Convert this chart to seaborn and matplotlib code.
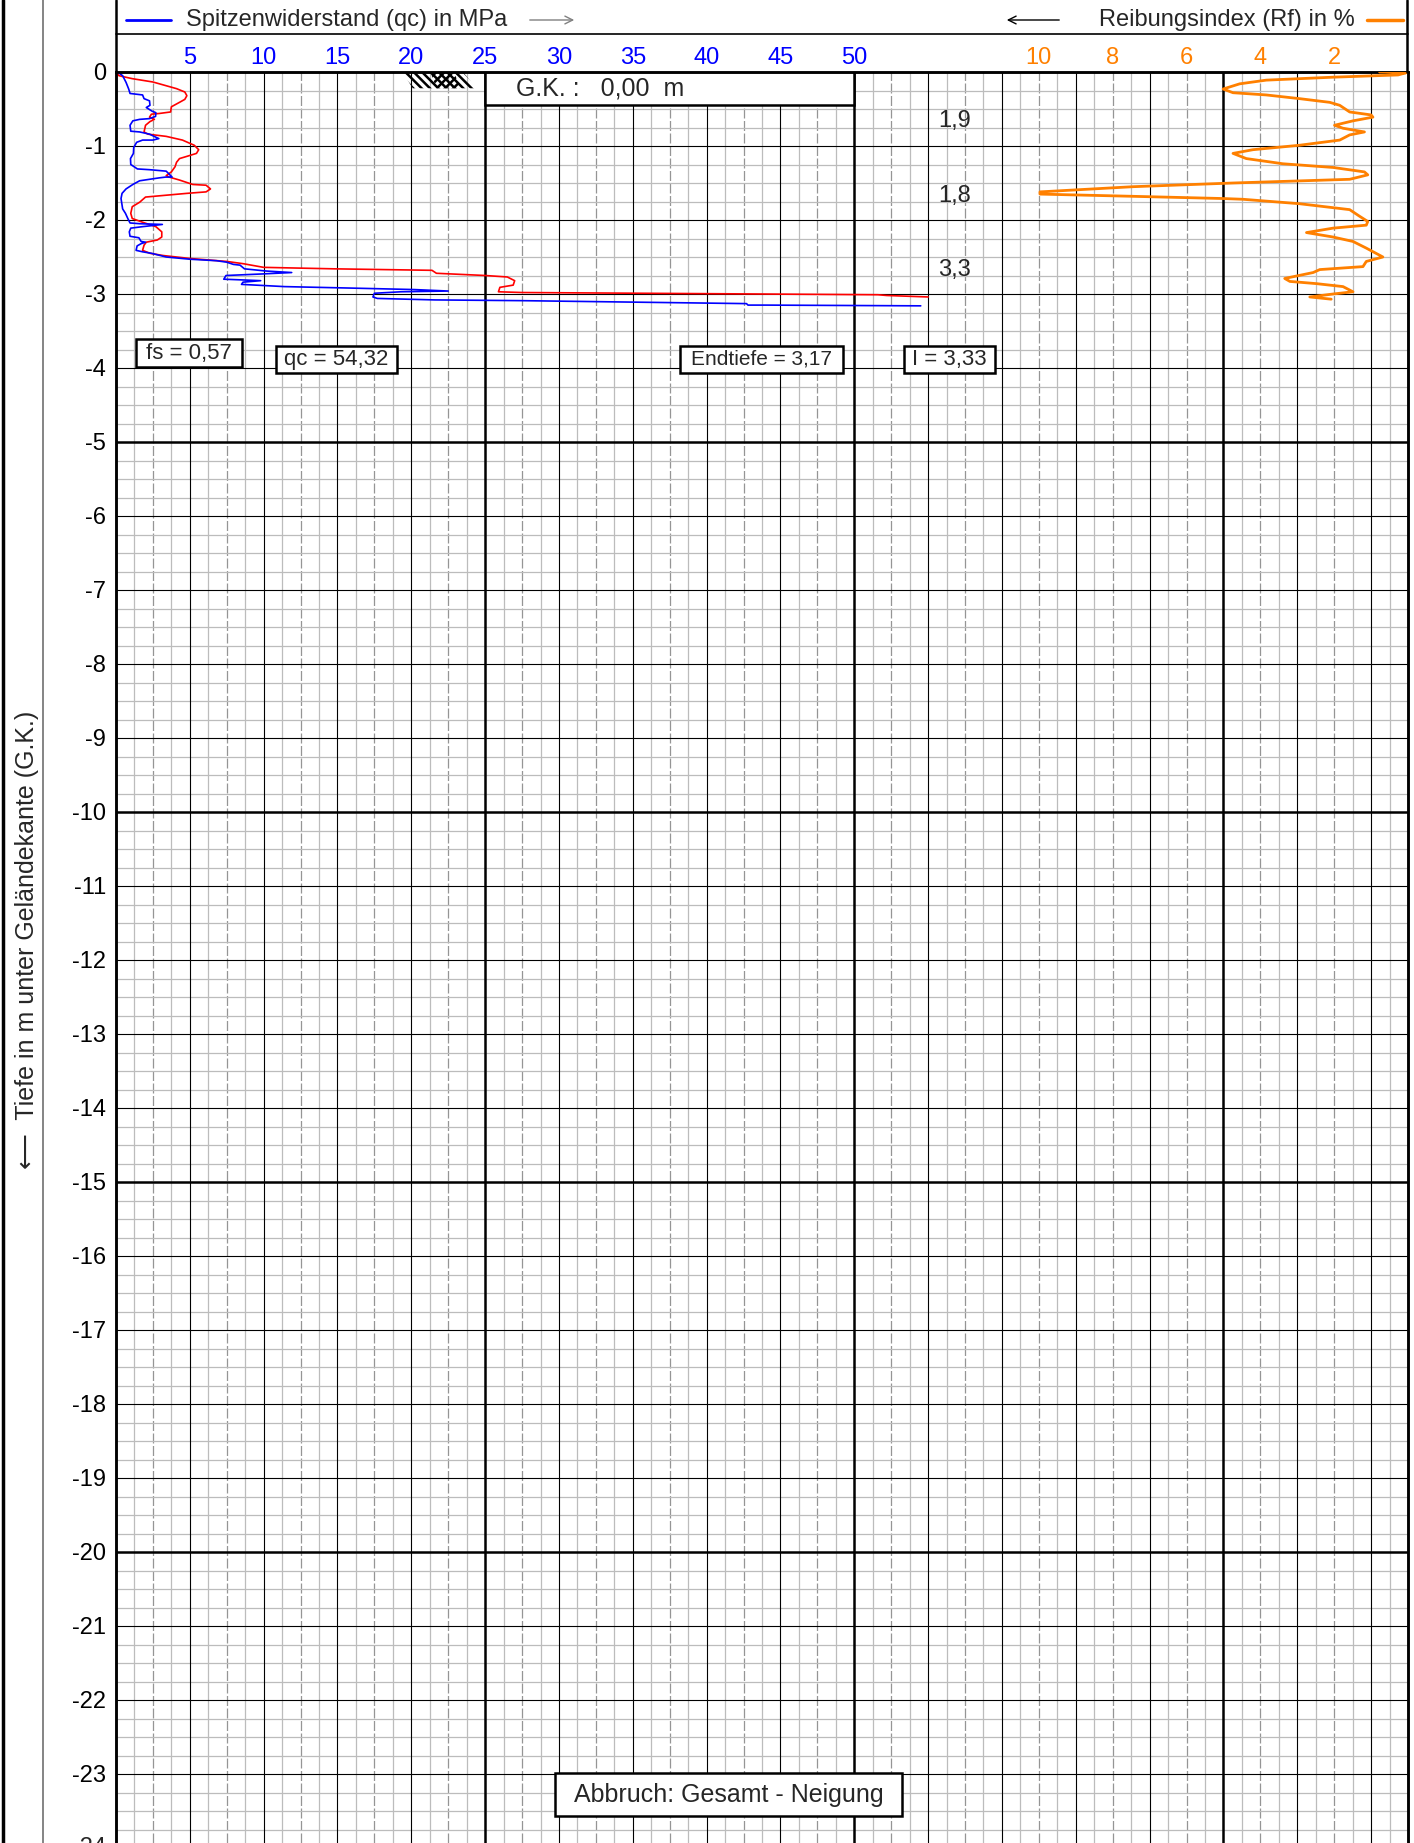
import numpy as np
import pandas as pd
import matplotlib.pyplot as plt
from matplotlib.lines import Line2D
from matplotlib.patches import Rectangle, Polygon, FancyArrowPatch
import seaborn as sns

# =====================
# DATA (depth in m below G.K., values read off the sounding log)
# =====================
qc_depth = [0.00, 0.05, 0.14, 0.23, 0.29, 0.31, 0.36, 0.39, 0.45, 0.48,
            0.53, 0.55, 0.60, 0.63, 0.64, 0.66, 0.72, 0.80, 0.81, 0.84,
            0.90, 0.92, 0.92, 0.95, 1.02, 1.10, 1.17, 1.25, 1.31, 1.32,
            1.34, 1.38, 1.42, 1.42, 1.43, 1.45, 1.47, 1.52, 1.58, 1.64,
            1.71, 1.85, 1.91, 1.98, 2.04, 2.05, 2.06, 2.09, 2.11, 2.16,
            2.22, 2.24, 2.29, 2.30, 2.32, 2.35, 2.41, 2.43, 2.45, 2.50,
            2.53, 2.55, 2.57, 2.60, 2.61, 2.66, 2.69, 2.71, 2.73, 2.75,
            2.80, 2.81, 2.82, 2.84, 2.87, 2.90, 2.92, 2.94, 2.96, 2.97,
            2.99, 3.04, 3.06, 3.08, 3.09, 3.13, 3.15, 3.15, 3.16]
qc_value = [0.1, 0.45, 0.68, 0.86, 0.95, 1.8, 1.9, 2.27, 2.3, 2.05,
            2.45, 2.7, 2.68, 2.27, 1.6, 1.14, 0.95, 1.0, 1.6, 2.27,
            2.9, 2.5, 1.8, 1.4, 1.2, 1.18, 0.98, 1.0, 1.45, 2.27,
            3.4, 3.6, 3.8, 3.36, 2.95, 2.27, 1.6, 1.14, 0.68, 0.41,
            0.34, 0.45, 0.64, 0.8, 0.95, 1.6, 3.14, 1.8, 1.0, 0.9,
            0.95, 1.55, 1.7, 2.0, 1.7, 1.43, 1.36, 1.8, 2.4, 3.4,
            5.0, 6.8, 7.5, 7.95, 8.4, 8.7, 10.2, 11.9, 9.8, 7.45,
            7.3, 8.6, 9.8, 8.6, 8.5, 11.4, 15.9, 20.2, 22.5, 19.3,
            17.5, 17.4, 17.7, 21.6, 27.5, 42.7, 42.8, 44.0, 54.5]

fs_depth = [0.00, 0.05, 0.09, 0.135, 0.225, 0.27, 0.32, 0.37, 0.41, 0.47,
            0.54, 0.56, 0.57, 0.61, 0.64, 0.67, 0.72, 0.81, 0.84, 0.87,
            0.92, 0.99, 1.05, 1.10, 1.14, 1.17, 1.22, 1.28, 1.35, 1.40,
            1.42, 1.46, 1.52, 1.53, 1.58, 1.62, 1.64, 1.69, 1.76, 1.82,
            1.91, 1.98, 2.03, 2.09, 2.16, 2.23, 2.27, 2.30, 2.34, 2.41,
            2.45, 2.48, 2.52, 2.56, 2.59, 2.64, 2.66, 2.68, 2.72, 2.75,
            2.77, 2.82, 2.88, 2.91, 2.97, 2.98, 3.01, 3.02, 3.04]
fs_value = [0.0, 0.2, 1.1, 2.5, 4.1, 4.66, 4.8, 4.66, 4.3, 3.75,
            3.7, 2.95, 2.4, 2.27, 2.6, 2.3, 2.0, 1.9, 2.16, 3.4,
            4.5, 5.3, 5.6, 5.45, 4.8, 4.3, 4.1, 4.0, 3.75, 3.4,
            3.6, 4.3, 5.2, 6.1, 6.4, 6.1, 4.8, 2.0, 1.6, 1.1,
            1.0, 1.1, 1.8, 2.7, 3.1, 3.1, 2.8, 2.05, 1.9, 1.8,
            2.3, 3.2, 5.0, 7.5, 8.6, 10.0, 14.8, 21.4, 21.7, 25.0,
            26.5, 27.0, 26.9, 26.0, 25.9, 27.5, 51.6, 52.2, 55.0]

rf_depth = [0.00, 0.01, 0.04, 0.07, 0.11, 0.16, 0.23, 0.28, 0.31, 0.36,
            0.41, 0.45, 0.54, 0.58, 0.61, 0.66, 0.72, 0.76, 0.81, 0.85,
            0.92, 0.99, 1.05, 1.10, 1.17, 1.24, 1.29, 1.35, 1.39, 1.45,
            1.50, 1.55, 1.62, 1.65, 1.68, 1.71, 1.72, 1.78, 1.86, 1.95,
            2.02, 2.07, 2.11, 2.17, 2.23, 2.29, 2.38, 2.50, 2.56, 2.63,
            2.67, 2.71, 2.79, 2.83, 2.86, 2.90, 2.97, 3.00, 3.04, 3.07]
rf_value = [0.77, 0.05, 0.27, 2.03, 3.84, 4.56, 5.01, 4.74, 3.84, 2.94,
            2.12, 1.85, 1.58, 1.0, 0.95, 1.49, 1.99, 1.76, 1.18, 1.58,
            1.85, 2.94, 4.2, 4.74, 4.38, 3.39, 2.03, 1.18, 1.09, 1.58,
            4.74, 7.45, 9.97, 9.97, 7.45, 5.0, 4.47, 2.94, 1.58, 1.31,
            1.09, 1.13, 2.03, 2.75, 2.03, 1.49, 1.13, 0.68, 1.13, 1.22,
            2.39, 2.57, 3.34, 3.2, 2.48, 1.76, 1.49, 2.03, 2.66, 2.08]

rf_mean_depth = [0.66, 1.67, 2.68]
rf_mean_label = ['1,9', '1,8', '3,3']

qc_ticks = [5, 10, 15, 20, 25, 30, 35, 40, 45, 50]
rf_ticks = [10, 8, 6, 4, 2]
depth_ticks = list(range(0, -24, -1))

qc_df = pd.DataFrame({'qc': qc_value, 'tiefe': -np.array(qc_depth)})
fs_df = pd.DataFrame({'fs': fs_value, 'tiefe': -np.array(fs_depth)})
rf_df = pd.DataFrame({'rf': rf_value, 'tiefe': -np.array(rf_depth)})

# =====================
# FIGURE
# =====================
sns.set_theme(style='white')
plt.rcParams['font.family'] = ['Liberation Sans', 'DejaVu Sans']
plt.rcParams['axes.unicode_minus'] = False
plt.rcParams['hatch.linewidth'] = 1.8
plt.rcParams['hatch.color'] = 'black'

W, H = 1414, 1843
fig = plt.figure(figsize=(W / 100, H / 100), dpi=100)

QMAX = 87.5          # qc scale width of the chart (MPa)
TOP = 72             # pixel row of G.K.
PX_M = 74.0          # pixels per metre
LEFT, RIGHT = 116, 1408
bottom_depth = -(H - TOP) / PX_M
TICK_FS = 17

ax = fig.add_axes([LEFT / W, 0, (RIGHT - LEFT) / W, (H - TOP) / H])
ax.set_xlim(0, QMAX)
ax.set_ylim(bottom_depth, 0)

# grid paper
for x in np.arange(1.25, QMAX, 1.25):
    r = x % 5
    if np.isclose(r, 0) or np.isclose(r, 5):
        continue
    if np.isclose(r, 2.5):
        ax.axvline(x, color='#959595', lw=0.9, ls=(0, (8, 2)), zorder=0)
    else:
        ax.axvline(x, color='#bcbcbc', lw=0.9, zorder=0)
for x in np.arange(5, QMAX, 5):
    ax.axvline(x, color='black', lw=1.8 if x % 25 == 0 else 0.8, zorder=1)
for y in np.arange(-0.25, bottom_depth, -0.25):
    if np.isclose(y, round(y)):
        ax.axhline(y, color='black', lw=1.8 if round(y) % 5 == 0 else 0.8, zorder=1)
    else:
        ax.axhline(y, color='#bcbcbc', lw=0.9, zorder=0)

# curves
sns.lineplot(data=fs_df, x='fs', y='tiefe', sort=False, estimator=None,
             color='#ff0000', lw=1.2, ax=ax, zorder=3)
sns.lineplot(data=qc_df, x='qc', y='tiefe', sort=False, estimator=None,
             color='#0000ff', lw=1.2, ax=ax, zorder=3)

ax2 = ax.twiny()
ax2.set_xlim(QMAX / 2.5, 0)
sns.lineplot(data=rf_df, x='rf', y='tiefe', sort=False, estimator=None,
             color='#ff8000', lw=2.0, ax=ax2, zorder=3)
ax2.set_ylim(bottom_depth, 0)

# axes / ticks
ax.xaxis.tick_top()
ax.set_xticks(qc_ticks)
ax.tick_params(axis='x', top=True, bottom=False, length=0, pad=2,
               labelsize=TICK_FS, labelcolor='#0000ff', labeltop=True, labelbottom=False)
ax2.set_xticks(rf_ticks)
ax2.tick_params(axis='x', length=0, pad=2, labelsize=TICK_FS, labelcolor='#ff8000')
ax.set_yticks(depth_ticks)
ax.tick_params(axis='y', length=0, pad=7, labelsize=TICK_FS, labelcolor='black')
ax.set_xlabel('')
ax.set_ylabel('')
ax2.set_xlabel('')
ax2.set_ylabel('')
for a in (ax, ax2):
    for s in a.spines.values():
        s.set_color('black')
        s.set_linewidth(1.8)
    a.spines['bottom'].set_visible(False)
ax.annotate('-24', xy=(0, -24), xycoords=('axes fraction', 'data'),
            xytext=(-10, 0), textcoords='offset pixels', ha='right', va='center',
            fontsize=TICK_FS, annotation_clip=False)

# hatch symbol at G.K.
ax.add_patch(Polygon([(19.4, 0), (23.5, 0), (24.4, -0.22), (20.1, -0.22)],
                     closed=True, fill=False, ec='black', lw=0, hatch='\\\\\\\\',
                     zorder=2))
ax.add_patch(Polygon([(21.3, 0), (22.9, 0), (23.3, -0.22), (21.7, -0.22)],
                     closed=True, fill=False, ec='black', lw=0, hatch='////',
                     zorder=2))

# boxes


def box(x0, x1, d0, d1, text, fs=16, ha='center', tx=None):
    ax.add_patch(Rectangle((x0, d1), x1 - x0, d0 - d1, fc='white', ec='black',
                           lw=1.8, zorder=4))
    ax.text(tx if tx is not None else (x0 + x1) / 2, (d0 + d1) / 2, text,
            ha=ha, va='center', fontsize=fs, zorder=5)


box(25, 50, 0, -0.45, 'G.K. :   0,00  m', fs=18, ha='left', tx=27.1)
box(1.35, 8.53, -3.61, -3.99, 'fs = 0,57')
box(10.83, 19.02, -3.70, -4.07, 'qc = 54,32')
box(38.19, 49.22, -3.70, -4.07, 'Endtiefe = 3,17', fs=15)
box(53.35, 59.51, -3.70, -4.07, 'I = 3,33')
box(29.72, 53.22, -22.99, -23.57, 'Abbruch: Gesamt - Neigung', fs=18)

for d, lab in zip(rf_mean_depth, rf_mean_label):
    ax.text(56.8, -d, lab, ha='center', va='center', fontsize=TICK_FS, zorder=5)

# frame and header


def fline(x0, y0, x1, y1, **kw):
    fig.add_artist(Line2D([x0 / W, x1 / W], [1 - y0 / H, 1 - y1 / H], **kw))


def farrow(x0, x1, y, color):
    fig.add_artist(FancyArrowPatch((x0 / W, 1 - y / H), (x1 / W, 1 - y / H),
                                   transform=fig.transFigure, arrowstyle='->',
                                   mutation_scale=14, lw=1.0, color=color))


fline(3, 0, 3, H, color='black', lw=2.5)
fline(43, 0, 43, H, color='#707070', lw=1.2)
fline(LEFT, 0, LEFT, TOP, color='black', lw=1.8)
fline(RIGHT - 1, 0, RIGHT - 1, TOP, color='black', lw=1.8)
fline(LEFT, 34, RIGHT, 34, color='black', lw=1.2)

fline(126, 20, 171, 20, color='#0000ff', lw=2)
fig.text(186 / W, 1 - 20 / H, 'Spitzenwiderstand (qc) in MPa', ha='left',
         va='center', fontsize=TICK_FS)
farrow(527, 577, 20, '#808080')
farrow(1062, 1004, 20, 'black')
fig.text(1355 / W, 1 - 20 / H, 'Reibungsindex (Rf) in %', ha='right',
         va='center', fontsize=TICK_FS)
fline(1367, 20, 1403, 20, color='#ff8000', lw=2.5)

fig.text(27 / W, 1 - 940 / H, '\u27f5  Tiefe in m unter Geländekante (G.K.)',
         rotation=90, ha='center', va='center', fontsize=18)

fig.savefig('out.png', dpi=100)
